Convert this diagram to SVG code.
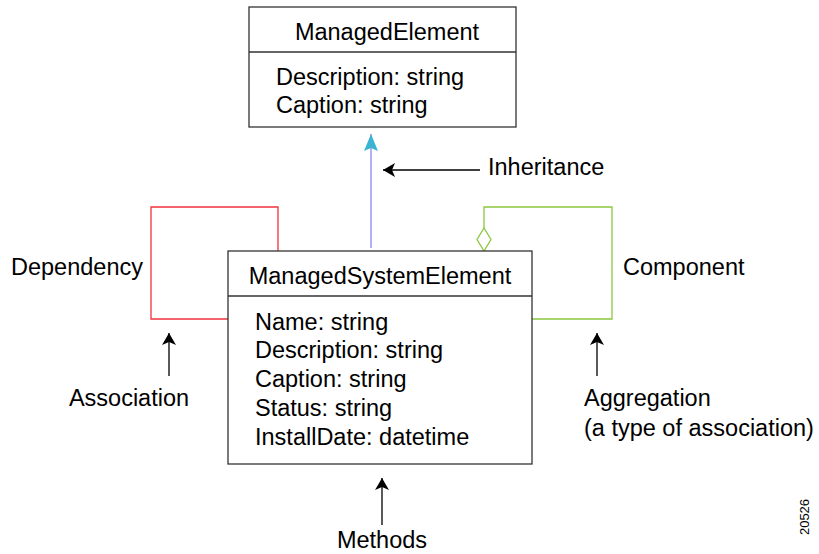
<svg xmlns="http://www.w3.org/2000/svg" width="819" height="554" viewBox="0 0 819 554">
<style>
text{font-family:"Liberation Sans",Arial,sans-serif;font-size:23.5px;fill:#000}
.box{fill:#fff;stroke:#333;stroke-width:1.3}
.div{stroke:#333;stroke-width:1.3}
.k{stroke:#000;stroke-width:1.3;fill:none}
</style>
<defs>
<marker id="ah" markerWidth="12" markerHeight="16" refX="12" refY="8" orient="auto" markerUnits="userSpaceOnUse"><path d="M0,1 L12,8 L0,15 L3,8 Z" fill="#000"/></marker>
<marker id="ch" markerWidth="18" markerHeight="16" refX="17" refY="8" orient="auto" markerUnits="userSpaceOnUse"><path d="M0,1 L17,8 L0,15 L3,8 Z" fill="#3bb4d4"/></marker>
</defs>
<g id="connectors">
<path d="M278,251 V207 H151 V319 H229" fill="none" stroke="#f0323c" stroke-width="1.3"/>
<path d="M484,228 V207 H612 V319 H532" fill="none" stroke="#8cc63f" stroke-width="1.3"/>
<path d="M484,228 L491,239.5 L484,251 L477,239.5 Z" fill="#fff" stroke="#8cc63f" stroke-width="1.3"/>
<line x1="371" y1="248" x2="371" y2="134" stroke="#8888ee" stroke-width="1.3" marker-end="url(#ch)"/>
<line x1="480" y1="170" x2="383" y2="170" class="k" marker-end="url(#ah)"/>
<line x1="169" y1="376" x2="169" y2="333" class="k" marker-end="url(#ah)"/>
<line x1="597" y1="376" x2="597" y2="333" class="k" marker-end="url(#ah)"/>
<line x1="382" y1="525" x2="382" y2="478" class="k" marker-end="url(#ah)"/>
</g>
<g id="managedElement">
<rect class="box" x="249" y="7" width="267" height="120"/>
<line class="div" x1="249" y1="52" x2="516" y2="52"/>
<text x="387" y="40" text-anchor="middle">ManagedElement</text>
<text x="276" y="85">Description: string</text>
<text x="276" y="113">Caption: string</text>
</g>
<g id="managedSystemElement">
<rect class="box" x="228" y="251" width="304" height="213"/>
<line class="div" x1="228" y1="296" x2="532" y2="296"/>
<text x="380" y="284" text-anchor="middle">ManagedSystemElement</text>
<text x="255" y="330">Name: string</text>
<text x="255" y="358">Description: string</text>
<text x="255" y="387">Caption: string</text>
<text x="255" y="416">Status: string</text>
<text x="255" y="445">InstallDate: datetime</text>
</g>
<g id="labels">
<text x="488" y="175">Inheritance</text>
<text x="11" y="275">Dependency</text>
<text x="623" y="275">Component</text>
<text x="129" y="406" text-anchor="middle">Association</text>
<text x="584" y="406">Aggregation</text>
<text x="584" y="436">(a type of association)</text>
<text x="382" y="548" text-anchor="middle">Methods</text>
<text x="0" y="0" transform="translate(809,517) rotate(-90)" text-anchor="middle" style="font-size:13px">20526</text>
</g>
</svg>
